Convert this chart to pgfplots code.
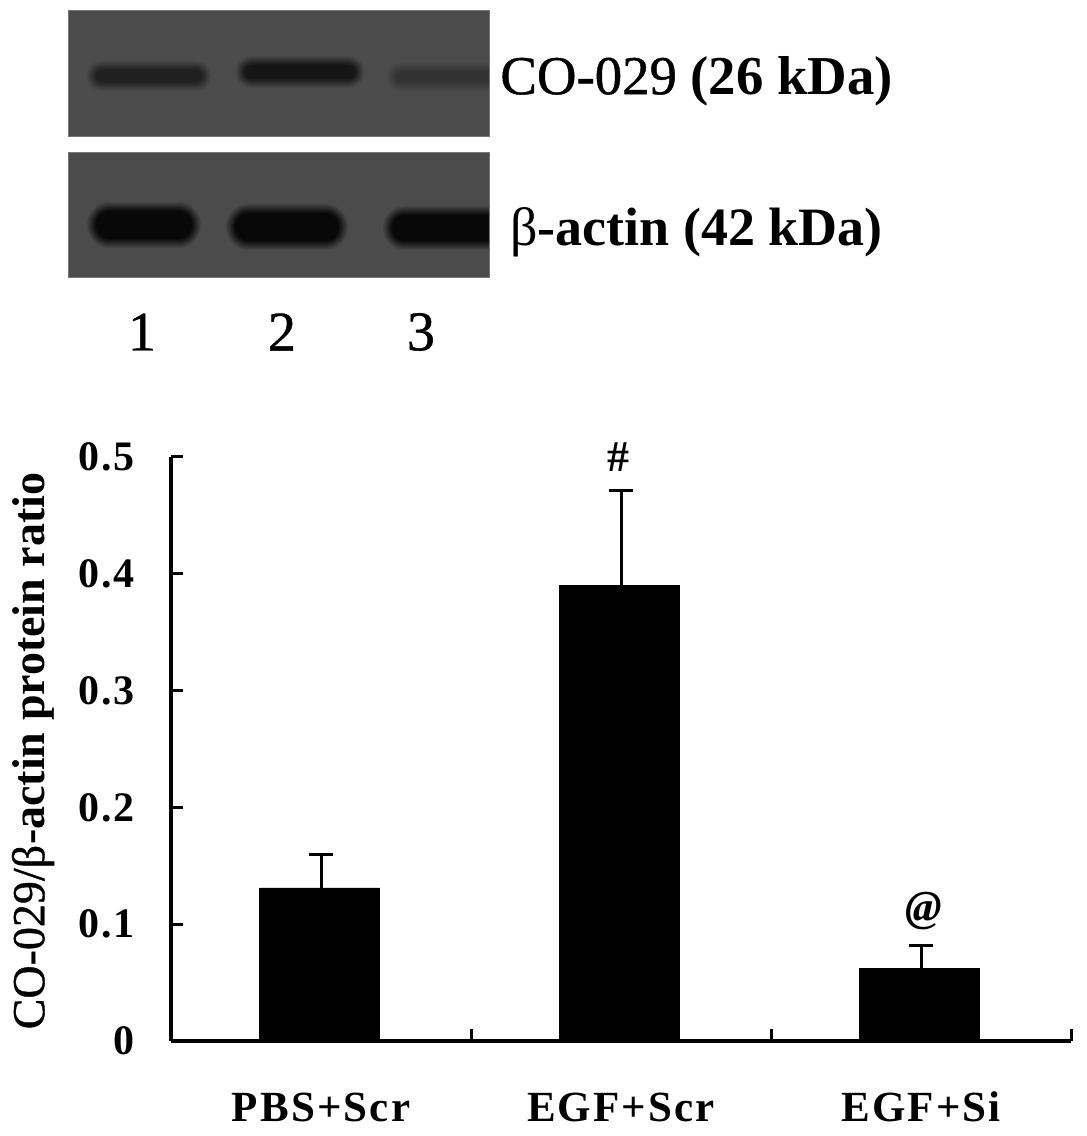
\documentclass[border=0pt]{standalone}
\usepackage{pgfplots}
\pgfplotsset{compat=1.18}
\usepackage{fontspec}
\setmainfont{Liberation Serif}
\newfontfamily\spaced[LetterSpace=5]{Liberation Serif}
\newfontfamily\heavy[FakeBold=0.8]{Liberation Serif}

\definecolor{blotbg}{HTML}{4B4B4B}
\definecolor{blotedge}{HTML}{757575}
\definecolor{bandA}{HTML}{202020}
\definecolor{bandB}{HTML}{161616}
\definecolor{bandC}{HTML}{323232}
\definecolor{bandD}{HTML}{080808}

% blurred band on the blot: nested stadiums, in image pixels
% centre x, centre y, half width, half height, colour, blur
\newcommand{\band}[6]{%
  \foreach \k in {100,90,...,0} {
    \pgfmathsetmacro{\grow}{\k*#6/100}
    \pgfmathsetmacro{\hh}{#4+\grow}
    \pgfmathsetmacro{\hw}{#3+\grow}
    \fill[blotbg!\k!#5, rounded corners=\hh*0.49pt]
      (#1-\hw,#2-\hh) rectangle (#1+\hw,#2+\hh);
  }%
}

\pgfplotstableread{
x    y     err
0.5  0.131 0.029
1.5  0.390 0.081
2.5  0.062 0.020
}\ratio

\begin{document}
\begin{tikzpicture}
\path[use as bounding box] (0,0) rectangle (543.5pt,568pt);

% blot panels, coordinates are image pixels
\begin{scope}[shift={(0,568pt)}, x=0.5pt, y=-0.5pt]
  \fill[blotbg] (68,11) rectangle (489,137);
  \begin{scope}
    \clip (68,11) rectangle (489,137);
    \band{149}{76}{53}{6}{bandA}{10}
    \band{300}{72}{55}{7}{bandB}{10}
    \band{452}{77}{56}{5}{bandC}{10}
  \end{scope}
  \draw[blotedge, line width=0.5pt] (68,11) rectangle (489,137);
  \fill[blotbg] (68,153) rectangle (489,278);
  \begin{scope}
    \clip (68,153) rectangle (489,278);
    \band{144}{225}{48}{14}{bandD}{10}
    \band{287}{227}{52}{14}{bandD}{10}
    \band{450}{228}{58}{13}{bandD}{10}
  \end{scope}
  \draw[blotedge, line width=0.5pt] (68,153) rectangle (489,278);

  \node[anchor=west, inner sep=0pt, font=\fontsize{27.4}{30}\selectfont] at (500,81)
    {{\heavy CO-029} \textbf{(26 kDa)}};
  \node[anchor=west, inner sep=0pt, font=\fontsize{27}{30}\selectfont] at (510,232)
    {β\textbf{-actin (42 kDa)}};
  \node[font=\fontsize{28}{30}\heavy] at (142,332) {1};
  \node[font=\fontsize{28}{30}\heavy] at (282,332) {2};
  \node[font=\fontsize{28}{30}\heavy] at (421,332) {3};
\end{scope}

\begin{axis}[
    at={(85.5pt,47.5pt)},
    anchor=origin,
    scale only axis,
    clip=false,
    width=450pt,
    height=292pt,
    xmin=0, xmax=3,
    ymin=0, ymax=0.5,
    axis lines=left,
    axis line style={-, line width=1.7pt},
    tick align=inside,
    tick style={black, line width=1.5pt},
    major tick length=6pt,
    minor tick length=6pt,
    ytick={0,0.1,0.2,0.3,0.4,0.5},
    yticklabels={0,0.1,0.2,0.3,0.4,0.5},
    xtick={0.5,1.5,2.5},
    xticklabels={PBS+Scr,EGF+Scr,EGF+Si},
    minor xtick={1,2,3},
    major x tick style={draw=none},
    yticklabel style={font=\fontsize{21}{24}\spaced\bfseries, xshift=-14.5pt},
    xticklabel style={font=\fontsize{21.5}{24}\spaced\bfseries, anchor=center, yshift=-33pt},
    ylabel={{\heavy CO-029/β}\textbf{-actin protein ratio}},
    every axis y label/.style={
        at={(axis description cs:0,0.5)}, rotate=90, anchor=center,
        yshift=69pt, xshift=-1pt, font=\fontsize{23}{24}\selectfont},
]
\addplot[ybar, bar width=60pt, bar shift=-0.7pt, fill=black, draw=black,
    error bars/.cd, y dir=plus, y explicit,
    error bar style={black, line width=1.5pt},
    error mark options={black, line width=1.5pt, mark size=6pt, rotate=90},
] table[x=x, y=y, y error=err] {\ratio};
\node[font=\fontsize{22}{24}\selectfont\bfseries] at (axis cs:1.49,0.5) {\#};
\node[font=\fontsize{22}{24}\selectfont\bfseries\itshape] at (axis cs:2.51,0.111) {@};
\end{axis}
\end{tikzpicture}
\end{document}
